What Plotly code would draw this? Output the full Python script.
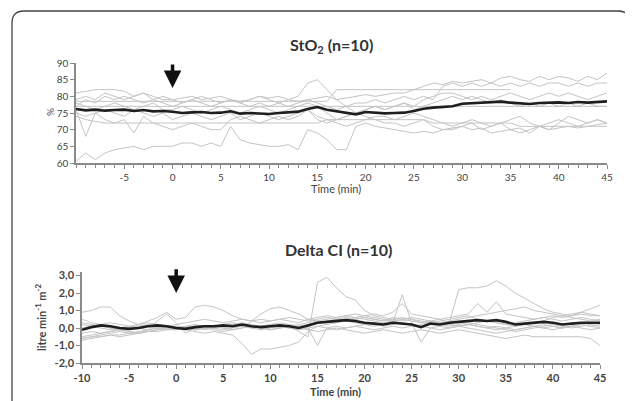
import plotly.graph_objects as go

# ---------------- data ----------------
time_min = [-10, -9, -8, -7, -6, -5, -4, -3, -2, -1,
            0, 1, 2, 3, 4, 5, 6, 7, 8, 9,
            10, 11, 12, 13, 14, 15, 16, 17, 18, 19,
            20, 21, 22, 23, 24, 25, 26, 27, 28, 29,
            30, 31, 32, 33, 34, 35, 36, 37, 38, 39,
            40, 41, 42, 43, 44, 45]

sto2_mean = [76.2, 75.8, 76.0, 75.7, 75.9, 76.0, 75.6, 75.9, 75.5, 75.6,
             75.4, 75.0, 75.2, 75.3, 75.0, 75.1, 75.5, 74.8, 75.0, 74.9,
             74.7, 75.0, 75.2, 75.4, 76.2, 76.8, 76.0, 75.5, 75.2, 74.6,
             75.3, 75.0, 74.9, 75.0, 75.1, 75.6, 76.3, 76.6, 76.8, 77.0,
             77.8, 77.9, 78.0, 78.3, 78.4, 78.1, 77.9, 77.7, 78.0, 78.1,
             78.2, 78.0, 78.3, 78.1, 78.4, 78.5]

sto2_p1 = [60.5, 63, 61, 63, 64, 64.5, 65, 64, 65, 65,
           65, 66, 66, 65, 66, 65, 71, 67, 66, 65.5,
           65, 65, 65.5, 64, 70, 69, 67, 64, 64, 71,
           72, 71, 70.5, 70, 69.5, 69, 69.5, 69, 70, 70.5,
           71, 70, 70.5, 69, 69.5, 70, 70.5, 69, 71, 70,
           70.5, 71, 70.5, 71, 71.5, 72]
sto2_p2 = [74, 73, 72.5, 72, 72, 72, 72, 72, 72, 72,
           72, 72, 72, 72, 72, 72, 72, 72, 72, 72,
           72, 72, 72, 72, 72, 72, 73, 73, 73, 73,
           73, 73, 73, 73, 73, 73, 73, 72, 72, 72,
           72, 72, 72, 72, 72, 72, 71, 71, 71, 71,
           71, 71, 71, 71, 71, 71]
sto2_p3 = [81, 81.5, 82, 82, 82, 81.5, 80, 81, 80, 79,
           79, 79.5, 80, 79, 79.5, 80, 79, 78.5, 79, 80,
           79.5, 80, 79, 78.5, 79, 79.5, 80, 79, 79.5, 80,
           80.5, 80, 80.5, 81, 81, 82, 83, 84, 83.5, 84.5,
           84, 84.5, 85, 84, 85.5, 86, 85, 84.5, 86, 85,
           86, 85.5, 84.5, 86, 85, 87]
sto2_p4 = [78.5, 78.5, 78.5, 78.5, 78.5, 78.5, 78.5, 78.5, 78.5, 78.5,
           78.5, 78.5, 78.5, 78.5, 78.5, 78.5, 78.5, 78.5, 78.5, 78.5,
           78.5, 78.5, 78.5, 78.5, 78.5, 78.5, 78.5, 82, 82, 82,
           82, 82, 82, 82, 82, 82, 82, 82, 82, 82,
           82, 82, 82, 82, 82, 82]
sto2_p5 = [77, 77, 77, 77, 77, 77, 77, 77, 77, 77,
           77, 77, 77, 77, 77, 77, 77, 77, 77, 77,
           77, 77, 77, 77, 77, 77, 77, 77, 77, 77,
           77, 77, 77, 77, 77, 77, 77, 77, 77, 77,
           77, 77, 77, 77, 77, 77, 77, 77, 77, 77,
           77, 77, 77, 77, 77, 77]
sto2_p6 = [77, 79, 78, 80, 79, 80, 79, 78, 79, 78,
           77, 78, 79, 78, 77, 78, 79, 78, 77, 78,
           77, 78, 79, 80, 84, 85, 82, 79, 77, 75,
           76, 77, 76, 77, 78, 77, 79, 80, 81, 81,
           80, 79, 80, 79, 80, 81, 80, 79, 80, 81,
           80, 81, 80, 79, 80, 81]
sto2_p7 = [76, 68, 75, 76, 75, 74, 76, 75, 74, 75,
           73, 74, 75, 74, 73, 74, 75, 73, 74, 75,
           74, 73, 74, 75, 76, 73, 72, 73, 74, 75,
           74, 73, 72, 72, 71, 72, 73, 71, 70, 70,
           71, 72, 70, 71, 72, 70, 69, 70, 71, 70,
           72, 74, 73, 72, 73, 72]
sto2_p8 = [75, 74, 75, 73, 72, 73, 69, 74, 72, 71,
           70, 71, 72, 71, 70, 70, 73, 74, 73, 72,
           73, 74, 73, 74, 76, 74, 73, 72, 71, 72,
           73, 74, 74, 73, 74, 75, 74, 73, 72, 71,
           72, 73, 72, 71, 72, 73, 74, 72, 71, 72,
           73, 72, 71, 72, 73, 72]
sto2_p9 = [79, 80, 79, 81, 80, 79, 80, 81, 79, 80,
           79, 78, 79, 80, 79, 78, 79, 78, 79, 80,
           79, 78, 77, 78, 79, 78, 77, 76, 77, 78,
           78, 79, 78, 79, 80, 79, 80, 79, 83, 84,
           83, 84, 83, 84, 83, 84, 83, 84, 83, 84,
           84, 83, 84, 83, 84, 84]
sto2_p10 = [78, 77, 76, 77, 78, 77, 76, 77, 78, 76,
            76, 77, 76, 75, 76, 77, 76, 75, 76, 77,
            76, 75, 76, 77, 78, 77, 75, 73, 74, 75,
            76, 77, 76, 77, 78, 76, 77, 78, 79, 80,
            79, 80, 79, 78, 79, 78, 77, 78, 77, 78,
            77, 78, 77, 78, 77, 77]

ci_mean = [-0.1, 0.05, 0.15, 0.1, 0.0, -0.05, 0.0, 0.1, 0.15, 0.1,
           0.0, -0.05, 0.05, 0.1, 0.1, 0.15, 0.1, 0.2, 0.1, 0.05,
           0.1, 0.15, 0.1, 0.0, 0.15, 0.3, 0.35, 0.4, 0.45, 0.4,
           0.3, 0.25, 0.2, 0.3, 0.25, 0.2, 0.05, 0.25, 0.2, 0.3,
           0.35, 0.4, 0.45, 0.4, 0.45, 0.35, 0.2, 0.25, 0.3, 0.35,
           0.3, 0.2, 0.25, 0.3, 0.3, 0.3]

ci_p1 = [0.3, 0.2, 0.1, 0.0, -0.1, 0.0, 0.1, 0.2, 0.1, 0.0,
         0.1, 0.0, -0.1, 0.0, 0.1, 0.2, 0.3, 0.2, 0.1, 0.0,
         -0.1, 0.0, 0.1, -0.2, -0.5, 2.6, 2.9, 2.3, 1.8, 1.6,
         1.0, 0.7, 0.6, 0.5, 0.4, 0.5, 0.3, 0.4, 0.3, 0.2,
         0.1, 0.2, 0.1, 0.0, -0.1, 0.0, 0.1, 0.2, 0.1, 0.0,
         0.1, 0.0, 0.1, 0.2, 0.1, 0.0]
ci_p2 = [0.5, 0.3, 0.2, 0.3, 0.2, 0.1, 0.2, 0.3, 0.2, 0.1,
         0.2, 0.3, 0.4, 0.5, 0.4, 0.3, 0.4, 0.5, 0.4, 0.3,
         0.4, 0.5, 0.6, 0.5, 0.4, 0.5, 0.6, 0.5, 0.4, 0.5,
         0.6, 0.5, 0.4, 0.6, 0.5, 0.4, 0.3, 0.4, 0.5, 0.3,
         2.2, 2.3, 2.3, 2.4, 2.7, 2.4, 2.0, 1.7, 1.4, 1.1,
         0.9, 0.8, 0.7, 0.9, 0.8, 0.7]
ci_p3 = [-0.6, -0.5, -0.4, -0.3, -0.2, -0.3, -0.2, -0.1, 0.0, 0.1,
         0.0, -0.1, -0.2, -0.3, -0.2, -0.3, -0.4, -0.9, -1.5, -1.2,
         -1.2, -1.1, -1.0, -0.8, -0.2, 0.1, 0.2, 0.3, 0.4, 0.3,
         0.2, 0.3, 0.1, 0.2, 0.3, 0.2, 0.1, 0.0, -0.1, 0.0,
         0.1, 0.0, -0.1, -0.2, -0.3, -0.2, -0.1, 0.0, 0.1, 0.0,
         -0.1, 0.0, 0.1, 0.0, -0.1, 0.0]
ci_p4 = [0.0, 0.1, 0.2, 0.0, -0.1, 0.0, 0.2, 0.4, 0.6, 0.9,
         0.5, 0.6, 1.2, 1.3, 1.2, 1.0, 0.7, 0.5, 0.4, 0.5,
         0.4, 0.5, 0.4, 0.3, 0.5, 0.6, 0.7, 0.6, 0.7, 0.6,
         0.7, 0.8, 0.7, 0.9, 1.4, 0.8, 0.7, 0.6, 0.5, 0.6,
         0.7, 0.8, 1.4, 0.9, 1.5, 0.8, 0.7, 0.6, 0.5, 0.6,
         0.7, 0.6, 0.7, 0.8, 0.7, 0.7]
ci_p5 = [0.9, 1.0, 1.2, 1.2, 0.7, 0.4, 0.2, 0.1, 0.0, -0.1,
         0.0, 0.1, 0.0, -0.1, 0.0, 0.1, 0.2, 0.1, 0.0, 0.1,
         0.2, 0.1, 0.0, 0.1, 0.2, 0.3, 0.4, 0.5, 0.6, 0.5,
         0.6, 0.5, 0.4, 0.5, 0.6, 0.5, 0.4, 0.3, 0.2, 0.1,
         0.2, 0.3, 0.2, 0.1, 0.0, -0.1, -0.2, -0.1, 0.0, 0.1,
         0.2, 0.1, 0.0, 0.1, 0.2, 0.1]
ci_p6 = [-0.5, -0.4, -0.3, -0.2, -0.1, -0.2, -0.3, -0.2, -0.1, 0.0,
         -0.1, 0.0, 0.1, 0.0, -0.1, -0.2, -0.1, 0.0, 0.4, 0.8,
         1.1, 1.2, 1.0, 0.8, 0.5, 0.4, 0.3, 0.4, 0.5, 0.6,
         0.5, 0.4, 0.3, 0.4, 0.5, 0.6, 0.5, 0.4, 0.3, 0.4,
         0.5, 0.6, 0.7, 0.8, 0.9, 1.0, 1.1, 1.2, 1.0, 0.9,
         0.8, 0.7, 0.6, 0.5, 0.4, 0.5]
ci_p7 = [-0.6, -0.5, -0.5, -0.4, -0.4, -0.3, -0.3, -0.2, -0.2, -0.1,
         -0.1, 0.0, -0.1, 0.0, 0.1, 0.0, -0.1, 0.0, 0.1, 0.0,
         -0.1, 0.0, 0.1, 0.0, -0.1, -0.2, -0.1, 0.0, -0.1, -0.2,
         -0.3, -0.2, -0.1, -0.2, -0.3, -0.2, -0.1, -0.2, -0.3, -0.2,
         -0.1, -0.2, -0.3, -0.4, -0.5, -0.6, -0.5, -0.4, -0.5, -0.5,
         -0.5, -0.5, -0.5, -0.5, -0.6, -1.0]
ci_p8 = [-0.3, -0.2, -0.3, -0.2, -0.1, -0.2, -0.3, -0.1, 0.4, 0.8,
         0.3, -0.3, 0.0, 0.1, 0.0, -0.1, 0.0, 0.1, 0.0, -0.1,
         0.0, 0.1, 0.0, -0.1, 0.0, -1.0, 0.0, 0.1, 0.0, 0.1,
         0.2, 0.1, 0.2, 0.3, 1.9, 0.3, -0.8, 0.0, 0.1, 0.0,
         0.1, 0.2, 0.1, 0.0, 0.1, 0.0, -0.1, 0.0, 0.1, 0.2,
         0.1, 0.0, 0.1, 0.2, 0.1, 0.2]
ci_p9 = [-0.7, -0.6, -0.5, -0.4, -0.5, -0.4, -0.3, -0.2, -0.1, 0.0,
         0.1, 0.0, -0.1, 0.0, 0.1, 0.0, 0.1, 0.2, 0.1, 0.0,
         0.1, 0.0, 0.1, 0.2, 0.3, 0.4, 0.5, 0.6, 0.7, 0.8,
         0.7, 0.6, 0.5, 0.4, 0.3, 0.2, 0.1, 0.2, 0.3, 0.2,
         0.1, 0.2, 0.3, 0.4, 0.3, 0.2, 0.1, 0.2, 0.3, 0.4,
         0.6, 0.7, 0.8, 0.9, 1.1, 1.3]
ci_p10 = [0.2, 0.1, 0.0, -0.1, 0.0, 0.1, 0.0, -0.1, 0.0, 0.1,
          0.0, 0.1, 0.2, 0.1, 0.0, 0.1, 0.2, 0.3, 0.2, 0.1,
          0.2, 0.3, 0.2, 0.1, 0.0, 0.1, 0.0, -0.1, 0.0, 0.1,
          0.0, -0.1, 0.0, 0.1, 0.0, 0.1, 0.2, 0.3, 0.4, 0.5,
          0.6, 0.7, 0.5, 0.4, 0.3, 0.2, 0.3, 0.4, 0.5, 0.6,
          0.5, 0.4, 0.5, 0.6, 0.5, 0.4]

sto2_patients = [sto2_p1, sto2_p2, sto2_p3, sto2_p4, sto2_p5,
                 sto2_p6, sto2_p7, sto2_p8, sto2_p9, sto2_p10]
ci_patients = [ci_p1, ci_p2, ci_p3, ci_p4, ci_p5,
               ci_p6, ci_p7, ci_p8, ci_p9, ci_p10]

sto2_xticks = [-5, 0, 5, 10, 15, 20, 25, 30, 35, 40, 45]
ci_xticks = [-10, -5, 0, 5, 10, 15, 20, 25, 30, 35, 40, 45]
sto2_yticks = [60, 65, 70, 75, 80, 85, 90]
ci_yticks = [-2, -1, 0, 1, 2, 3]
ci_ytext = ["-2,0", "-1,0", "0,0", "1,0", "2,0", "3,0"]

# ---------------- figure ----------------
W, H = 633, 401
OFF = 8  # page body margin of the html page
GRAY = "#c4c4c4"
AX = "#8a8a8a"
FONT = "Lato"

fig = go.Figure()
for p in sto2_patients:
    fig.add_trace(go.Scatter(x=time_min, y=p, mode="lines",
                             line=dict(color=GRAY, width=1), xaxis="x", yaxis="y",
                             hoverinfo="skip"))
fig.add_trace(go.Scatter(x=time_min, y=sto2_mean, mode="lines",
                         line=dict(color="#1e1e1e", width=2.6), xaxis="x", yaxis="y"))
for p in ci_patients:
    fig.add_trace(go.Scatter(x=time_min, y=p, mode="lines",
                             line=dict(color=GRAY, width=1), xaxis="x2", yaxis="y2",
                             hoverinfo="skip"))
fig.add_trace(go.Scatter(x=time_min, y=ci_mean, mode="lines",
                         line=dict(color="#1e1e1e", width=2.6), xaxis="x2", yaxis="y2"))


def px_x(p):
    return (p - OFF) / W


def px_y(p):
    return 1 - (p - OFF) / H


common_x = dict(showgrid=False, zeroline=False, showline=True, linecolor=AX, linewidth=1.5,
                ticks="outside", ticklen=4, tickcolor=AX, tickwidth=1, automargin=False,
                minor=dict(dtick=1, ticks="outside", ticklen=3, tickcolor=AX, tickwidth=1),
                range=[-10, 45])
common_y = dict(showgrid=False, zeroline=False, showline=True, linecolor=AX, linewidth=1.5,
                ticks="outside", ticklen=4, tickcolor=AX, tickwidth=1, automargin=False)

fig.update_layout(
    width=W, height=H,
    margin=dict(l=0, r=0, t=0, b=0, pad=0, autoexpand=False),
    paper_bgcolor="white", plot_bgcolor="white",
    showlegend=False,
    font=dict(family=FONT, color="#333333"),
    xaxis=dict(common_x, domain=[px_x(76), px_x(607)], anchor="y",
               tickvals=sto2_xticks, ticktext=[str(v) for v in sto2_xticks],
               tickfont=dict(size=10, color="#444444", family=FONT)),
    yaxis=dict(common_y, domain=[px_y(163), px_y(63)], anchor="x", range=[60, 90],
               tickvals=sto2_yticks, tickfont=dict(size=10, color="#444444", family=FONT)),
    xaxis2=dict(common_x, domain=[px_x(82), px_x(600)], anchor="y2",
                tickvals=ci_xticks, ticktext=[str(v) for v in ci_xticks],
                tickfont=dict(size=11, color="#444444", family=FONT, weight="bold")),
    yaxis2=dict(common_y, domain=[px_y(363), px_y(272)], anchor="x2", range=[-2, 3.2],
                tickvals=ci_yticks, ticktext=ci_ytext,
                tickfont=dict(size=11, color="#444444", family=FONT, weight="bold")),
)


def label(text, x, y, size, bold=True, angle=0, color="#444444"):
    fig.add_annotation(text=text, xref="paper", yref="paper", x=px_x(x), y=px_y(y),
                       xanchor="center", yanchor="middle", showarrow=False, textangle=angle,
                       font=dict(size=size, color=color, family=FONT,
                                 weight="bold" if bold else "normal"))


# titles
label("StO<sub>2</sub> (n=10)", 331, 45, 16, color="#333333")
label("Delta CI (n=10)", 338, 249, 16, color="#333333")
# axis titles
label("Time (min)", 336, 188, 11, bold=False)
label("Time (min)", 336, 391, 11)
label("%", 50, 112, 10, bold=False, angle=-90)
label("litre min<sup>-1</sup> m<sup>-2</sup>", 40, 318, 11, angle=-90)

# arrows at t = 0
fig.add_annotation(x=0, y=82.5, ax=0, ay=90, xref="x", yref="y", axref="x", ayref="y",
                   showarrow=True, arrowhead=2, arrowsize=1, arrowwidth=3.5,
                   arrowcolor="#111111", text="")
fig.add_annotation(x=0, y=2.0, ax=0, ay=3.45, xref="x2", yref="y2", axref="x2", ayref="y2",
                   showarrow=True, arrowhead=2, arrowsize=1, arrowwidth=3.5,
                   arrowcolor="#111111", text="")

# rounded frame
x0, x1 = px_x(12), px_x(630)
yt = px_y(11)
dx, dy = 12 / W, 12 / H
path = (f"M {x0},-0.1 L {x0},{yt - dy} Q {x0},{yt} {x0 + dx},{yt} "
        f"L {x1 - dx},{yt} Q {x1},{yt} {x1},{yt - dy} L {x1},-0.1")
fig.add_shape(type="path", path=path, xref="paper", yref="paper",
              line=dict(color="#444444", width=1.3))

fig.write_html("out.html")
